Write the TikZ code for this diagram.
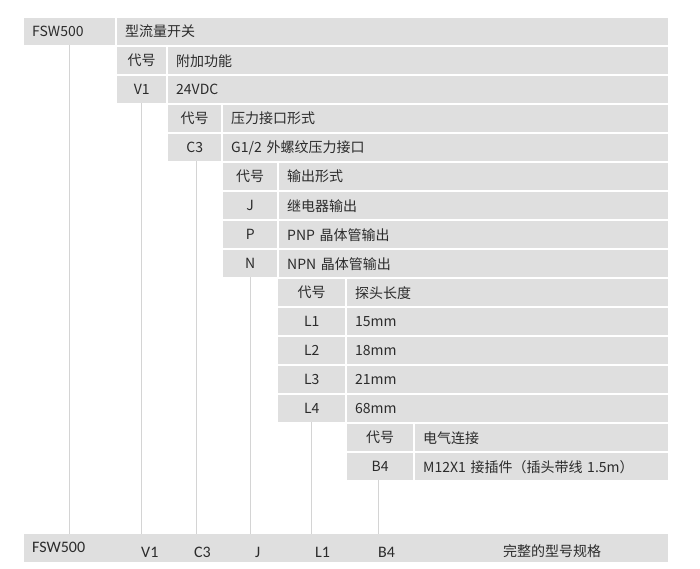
\documentclass[tikz,border=0pt]{standalone}
\usepackage{fontspec}
\newfontfamily\cjk{Noto Sans CJK SC}
\newfontfamily\narrowfont{Carlito}
\usepackage{tikz}
\usetikzlibrary{calc}

\definecolor{cellfill}{HTML}{DFDFDF}
\definecolor{ink}{HTML}{2B2B2B}
\definecolor{linkgray}{HTML}{D4D4D4}

\tikzset{
  cell/.style={fill=cellfill, inner ysep=0pt, minimum height=27pt,
    anchor=north west, text=ink, font=\cjk\fontsize{14}{16}\selectfont},
  codecell/.style={cell, inner xsep=0pt, minimum width=#1},
  desccell/.style={cell, inner xsep=8pt, text width=#1, align=left},
  link/.style={linkgray, line width=1pt},
  speclabel/.style={anchor=base west, inner sep=0pt, text=ink,
    font=\narrowfont\fontsize{16}{18}\selectfont}
}

\begin{document}
\begin{tikzpicture}[x=1pt,y=-1pt]

  \useasboundingbox (0,0) rectangle (700,569);

  %----------------------------------------
  % Model header
  %----------------------------------------
  \node[desccell=75pt] (fsw) at (24,18) {FSW500};
  \node[desccell=535pt] (fswtype) at (117,18) {型流量开关};

  %----------------------------------------
  % Extra function
  %----------------------------------------
  \node[codecell=49pt] (funchead) at (117,47) {代号};
  \node[desccell=484pt] (functitle) at (168,47) {附加功能};
  \node[codecell=49pt] (v1) at (117,76) {V1};
  \node[desccell=484pt] (v1desc) at (168,76) {24VDC};

  %----------------------------------------
  % Pressure port
  %----------------------------------------
  \node[codecell=53pt] (porthead) at (168,105) {代号};
  \node[desccell=429pt] (porttitle) at (223,105) {压力接口形式};
  \node[codecell=53pt] (c3) at (168,134) {C3};
  \node[desccell=429pt] (c3desc) at (223,134) {G1/2 外螺纹压力接口};

  %----------------------------------------
  % Output type
  %----------------------------------------
  \node[codecell=54pt] (outhead) at (223,163) {代号};
  \node[desccell=373pt] (outtitle) at (279,163) {输出形式};
  \foreach \code/\txt [count=\i from 0] in
    {J/继电器输出, P/PNP 晶体管输出, N/NPN 晶体管输出} {
    \node[codecell=54pt] (out\code) at (223,{192+29*\i}) {\code};
    \node[desccell=373pt] (out\code desc) at (279,{192+29*\i}) {\txt};
  }

  %----------------------------------------
  % Probe length
  %----------------------------------------
  \node[codecell=67pt] (probehead) at (278,279) {代号};
  \node[desccell=305pt] (probetitle) at (347,279) {探头长度};
  \foreach \code/\txt [count=\i from 0] in
    {L1/15mm, L2/18mm, L3/21mm, L4/68mm} {
    \node[codecell=67pt] (probe\code) at (278,{308+29*\i}) {\code};
    \node[desccell=305pt] (probe\code desc) at (347,{308+29*\i}) {\txt};
  }

  %----------------------------------------
  % Electrical connection
  %----------------------------------------
  \node[codecell=66pt] (connhead) at (347,424) {代号};
  \node[desccell=237pt] (conntitle) at (415,424) {电气连接};
  \node[codecell=66pt] (b4) at (347,453) {B4};
  \node[desccell=237pt] (b4desc) at (415,453) {M12X1 接插件（插头带线 1.5m）};

  %----------------------------------------
  % Full model code bar
  %----------------------------------------
  \node[cell, inner xsep=0pt, minimum width=644pt, minimum height=28pt] (spec) at (24,534) {};
  \node[speclabel] (specfsw) at (32,552) {FSW500};
  \node[speclabel] (specv1) at (141,557) {V1};
  \node[speclabel] (specc3) at (194,557) {C3};
  \node[speclabel] (specj) at (255,557) {J};
  \node[speclabel] (specl1) at (315,557) {L1};
  \node[speclabel] (specb4) at (378,557) {B4};
  \node[speclabel, font=\cjk\fontsize{14}{16}\selectfont] (spectitle) at (503,556) {完整的型号规格};

  %----------------------------------------
  % Drop lines to the bar
  %----------------------------------------
  \draw[link] (fsw.south) -- (fsw.south |- spec.north);
  \draw[link] (v1.south) -- (v1.south |- spec.north);
  \draw[link] ([xshift=2pt]c3.south) -- ([xshift=2pt]c3.south |- spec.north);
  \draw[link] (outN.south) -- (outN.south |- spec.north);
  \draw[link] (probeL4.south) -- (probeL4.south |- spec.north);
  \draw[link] ([xshift=-2pt]b4.south) -- ([xshift=-2pt]b4.south |- spec.north);

\end{tikzpicture}
\end{document}
